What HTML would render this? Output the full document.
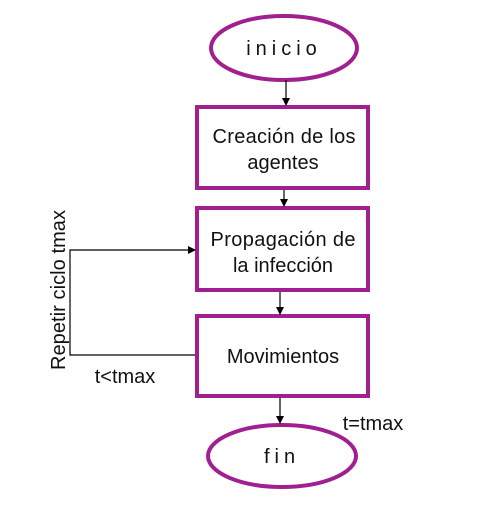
<!DOCTYPE html>
<html><head><style>body{margin:0;background:#fff}</style></head><body>
<svg width="481" height="501" viewBox="0 0 481 501" xmlns="http://www.w3.org/2000/svg" font-family="Liberation Sans, sans-serif" fill="none">
<defs><marker id="a" markerWidth="8" markerHeight="8" refX="7" refY="4" orient="auto" markerUnits="userSpaceOnUse"><path d="M0,0 L8,4 L0,8 z" fill="#000"/></marker></defs>
<g stroke="#A0208F" stroke-width="4">
<ellipse cx="284" cy="48" rx="73" ry="32"/>
<rect x="197" y="107" width="171" height="81"/>
<rect x="197" y="208" width="171" height="82"/>
<rect x="197" y="316" width="171" height="80"/>
<ellipse cx="282" cy="456" rx="74" ry="31"/>
</g>
<g stroke="#000" stroke-width="1.2">
<line x1="286" y1="80" x2="286" y2="105" marker-end="url(#a)"/>
<line x1="284" y1="190" x2="284" y2="206" marker-end="url(#a)"/>
<line x1="280" y1="292" x2="280" y2="314" marker-end="url(#a)"/>
<line x1="280" y1="398" x2="280" y2="423" marker-end="url(#a)"/>
<polyline points="195,355 70,355 70,250 195,250" marker-end="url(#a)"/>
</g>
<g fill="#111" font-size="20" text-anchor="middle">
<text x="284" y="55" letter-spacing="5">inicio</text>
<text x="284" y="143" textLength="143">Creación de los</text>
<text x="283" y="169">agentes</text>
<text x="283" y="246" textLength="145">Propagación de</text>
<text x="283" y="272">la infección</text>
<text x="283" y="363">Movimientos</text>
<text x="282" y="463" letter-spacing="5">fin</text>
<text x="125" y="383">t&lt;tmax</text>
<text x="373" y="430">t=tmax</text>
<text x="65" y="290" transform="rotate(-90 65 290)" textLength="160">Repetir ciclo tmax</text>
</g>
</svg>
</body></html>
